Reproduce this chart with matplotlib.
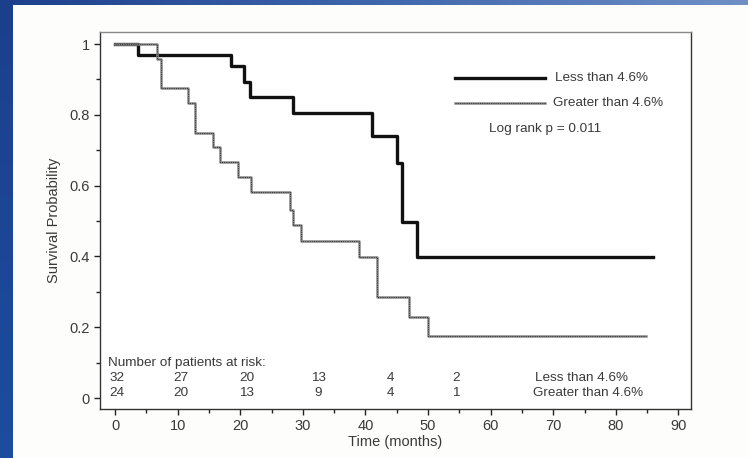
#!/usr/bin/env python3
# Kaplan-Meier survival curves, split at 4.6%, with risk table under the curves.
import matplotlib
matplotlib.use("Agg")
import matplotlib.pyplot as plt
import numpy as np
from matplotlib.ticker import MultipleLocator

plt.rcParams["font.family"] = ["Liberation Sans", "DejaVu Sans"]

TXT = "#3a3a3a"
FS = 9.7

# curve: less than 4.6%
menos_t = [0, 3.6, 18.6, 20.6, 21.6, 28.5, 41.0, 45.0, 45.8, 48.2, 86]
menos_s = [1.0, 0.969, 0.938, 0.894, 0.849, 0.804, 0.740, 0.665, 0.498, 0.397, 0.397]

# curve: greater than 4.6%
mais_t = [0, 6.7, 7.4, 11.6, 12.7, 15.7, 16.7, 19.7, 21.7, 27.9, 28.5, 29.7,
          38.9, 41.8, 47.0, 50.0, 84.8]
mais_s = [1.0, 0.958, 0.875, 0.833, 0.750, 0.708, 0.667, 0.625, 0.583, 0.531,
          0.489, 0.443, 0.399, 0.285, 0.230, 0.176, 0.176]

# patients at risk
risco_menos = ["32", "27", "20", "13", "4", "2"]
risco_mais = ["24", "20", "13", "9", "4", "1"]
risco_x = [0.3, 10.5, 21.0, 32.5, 44.0, 54.5]

fig = plt.figure(figsize=(7.48, 4.58), dpi=100)
fig.patch.set_facecolor("#fdfdfb")

# blue frame (left and top strips)
grad = np.linspace(0, 1, 256).reshape(1, -1)
top = fig.add_axes([0, 1 - 5 / 458, 1, 5 / 458])
top.imshow(grad, aspect="auto", cmap=matplotlib.colors.LinearSegmentedColormap.from_list(
    "azul", ["#1d3f8c", "#3f66ad", "#6f8fc6"]))
top.axis("off")
left = fig.add_axes([0, 0, 12 / 748, 1])
left.imshow(np.linspace(0, 1, 256).reshape(-1, 1), aspect="auto",
            cmap=matplotlib.colors.LinearSegmentedColormap.from_list(
                "azul2", ["#1d3f8c", "#1b4d9e"]))
left.axis("off")

ax = fig.add_axes([100 / 748, 1 - 409 / 458, 591 / 748, 377 / 458])
ax.set_facecolor("white")

ax.step(menos_t, menos_s, where="post", color="#111111", lw=2.4)
ax.step(mais_t, mais_s, where="post", color="#8a8a8a", lw=1.8)
ax.step(mais_t, mais_s, where="post", color="#3c3c3c", lw=0.8, ls=(0, (1, 1)))

# legend drawn by hand like the original figure
ax.plot([54.3, 68.7], [0.904, 0.904], color="#111111", lw=2.4)
ax.plot([54.3, 68.7], [0.833, 0.833], color="#8a8a8a", lw=1.8)
ax.plot([54.3, 68.7], [0.833, 0.833], color="#3c3c3c", lw=0.8, ls=(0, (1, 1)))
ax.text(70.3, 0.904, "Less than 4.6%", fontsize=FS, color=TXT, va="center")
ax.text(70.0, 0.833, "Greater than 4.6%", fontsize=FS, color=TXT, va="center")
ax.text(59.7, 0.760, "Log rank p = 0.011", fontsize=FS, color=TXT, va="center")

# risk table
ax.text(-1.2, 0.10, "Number of patients at risk:", fontsize=FS, color=TXT, va="center")
for x, a, b in zip(risco_x, risco_menos, risco_mais):
    ax.text(x, 0.056, a, fontsize=FS, color=TXT, ha="center", va="center")
    ax.text(x, 0.013, b, fontsize=FS, color=TXT, ha="center", va="center")
ax.text(67.1, 0.056, "Less than 4.6%", fontsize=FS, color=TXT, va="center")
ax.text(66.8, 0.013, "Greater than 4.6%", fontsize=FS, color=TXT, va="center")

ax.set_xlim(-2.4, 92)
ax.set_ylim(-0.031, 1.034)
ax.xaxis.set_major_locator(MultipleLocator(10))
ax.xaxis.set_minor_locator(MultipleLocator(5))
ax.yaxis.set_minor_locator(MultipleLocator(0.1))
ax.set_yticks([0, 0.2, 0.4, 0.6, 0.8, 1.0])
ax.set_yticklabels(["0", "0.2", "0.4", "0.6", "0.8", "1"])
ax.tick_params(which="both", direction="out", colors="#222222", labelcolor=TXT,
               labelsize=10.5, width=1.0)
ax.tick_params(which="major", length=4)
ax.tick_params(which="minor", length=3)
for s in ax.spines.values():
    s.set_color("#333333")
    s.set_linewidth(1.0)
ax.spines["top"].set_color("#888888")

ax.set_xlabel("Time (months)", fontsize=10.5, color=TXT, labelpad=1)
ax.set_ylabel("Survival Probability", fontsize=10.5, color=TXT, labelpad=6)

fig.savefig("out.png", dpi=100, facecolor=fig.get_facecolor())
print("out.png")
